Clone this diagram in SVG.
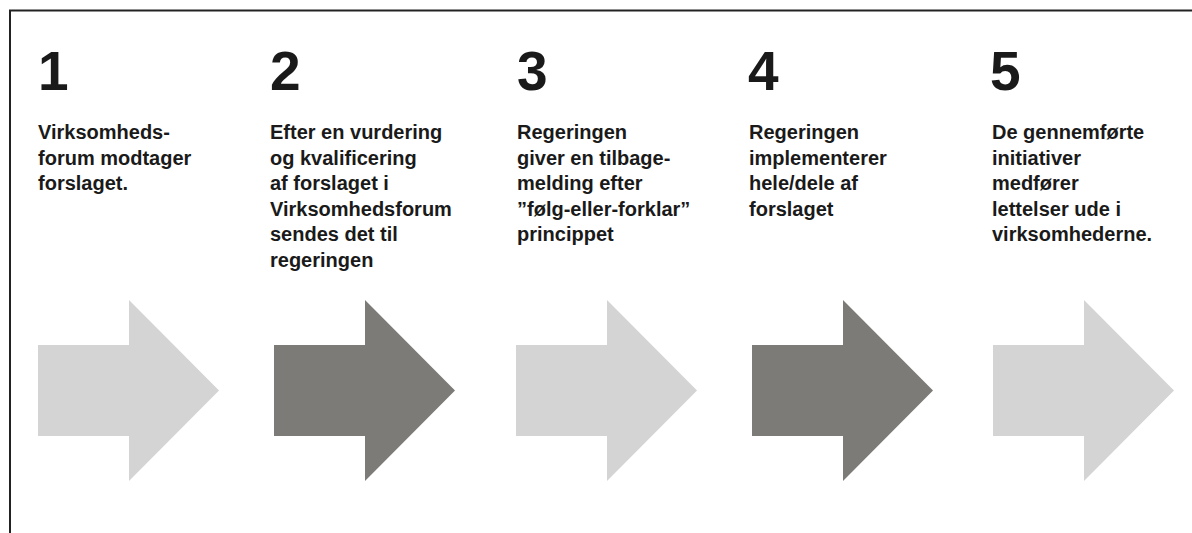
<svg xmlns="http://www.w3.org/2000/svg" width="1192" height="533" viewBox="0 0 1192 533">
<style>
.num{font-family:"Liberation Sans",Arial,sans-serif;font-weight:bold;font-size:55px;fill:#1a1a1a}
.txt{font-family:"Liberation Sans",Arial,sans-serif;font-weight:bold;font-size:20px;fill:#1a1a1a}
.light{fill:#d4d4d4}
.dark{fill:#7d7b77}
.frame{stroke:#222;stroke-width:2;fill:none}
</style>
<defs>
<path id="arr" d="M0,345 H91 V300 L181,390.5 L91,481 V436 H0 Z"/>
</defs>
<rect width="1192" height="533" fill="#fff"/>
<g id="frame">
<path class="frame" d="M10,533 V10.5 H1192"/>
</g>
<g id="step1">
<text class="num" x="38" y="90">1</text>
<text class="txt" x="38"><tspan x="38" y="139">Virksomheds-</tspan><tspan x="38" y="164.5">forum modtager</tspan><tspan x="38" y="190">forslaget.</tspan></text>
<use href="#arr" class="light" x="38"/>
</g>
<g id="step2">
<text class="num" x="270" y="90">2</text>
<text class="txt"><tspan x="270" y="139">Efter en vurdering</tspan><tspan x="270" y="164.5">og kvalificering</tspan><tspan x="270" y="190">af forslaget i</tspan><tspan x="270" y="215.5">Virksomhedsforum</tspan><tspan x="270" y="241">sendes det til</tspan><tspan x="270" y="266.5">regeringen</tspan></text>
<use href="#arr" class="dark" x="274"/>
</g>
<g id="step3">
<text class="num" x="517" y="90">3</text>
<text class="txt"><tspan x="517" y="139">Regeringen</tspan><tspan x="517" y="164.5">giver en tilbage-</tspan><tspan x="517" y="190">melding efter</tspan><tspan x="517" y="215.5">”følg-eller-forklar”</tspan><tspan x="517" y="241">princippet</tspan></text>
<use href="#arr" class="light" x="516"/>
</g>
<g id="step4">
<text class="num" x="748" y="90">4</text>
<text class="txt"><tspan x="749" y="139">Regeringen</tspan><tspan x="749" y="164.5">implementerer</tspan><tspan x="749" y="190">hele/dele af</tspan><tspan x="749" y="215.5">forslaget</tspan></text>
<use href="#arr" class="dark" x="752"/>
</g>
<g id="step5">
<text class="num" x="990" y="90">5</text>
<text class="txt"><tspan x="992" y="139">De gennemførte</tspan><tspan x="992" y="164.5">initiativer</tspan><tspan x="992" y="190">medfører</tspan><tspan x="992" y="215.5">lettelser ude i</tspan><tspan x="992" y="241">virksomhederne.</tspan></text>
<use href="#arr" class="light" x="993"/>
</g>
<g id="connectors"></g>
</svg>
